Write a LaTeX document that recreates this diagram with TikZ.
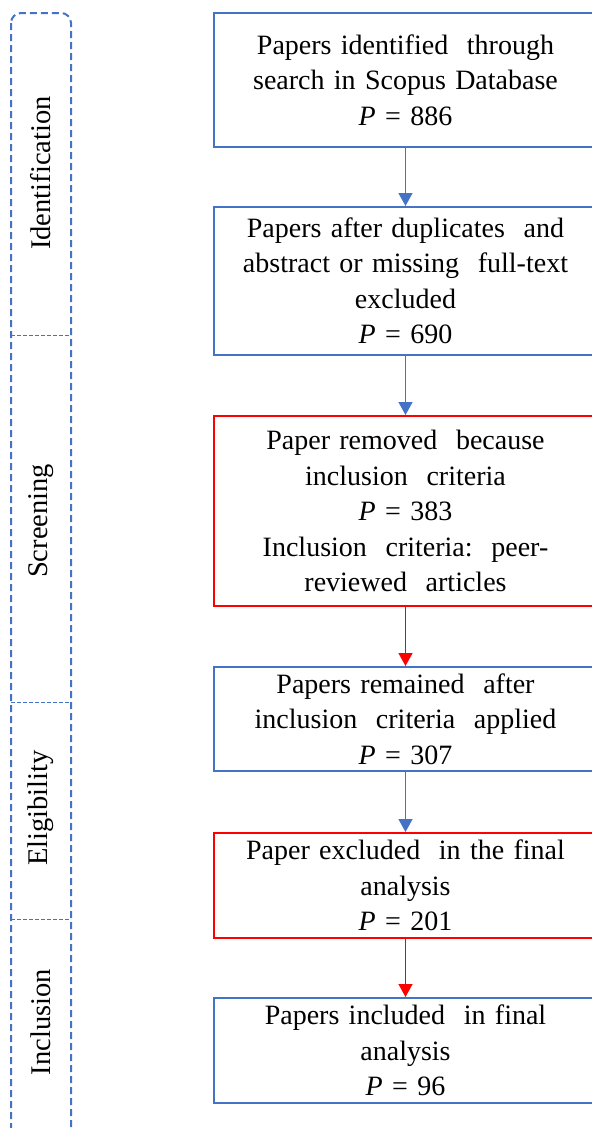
\documentclass[tikz,border=0pt]{standalone}
\usepackage{fontspec}
\setmainfont{Liberation Serif}
\usetikzlibrary{arrows.meta}
\definecolor{cblue}{HTML}{4472C4}
\definecolor{cred}{HTML}{FF0000}
\tikzset{
  box/.style={draw=cblue, line width=2pt, minimum width=383pt, inner sep=0pt,
    text width=378pt, align=center, font=\fontsize{28pt}{35.5pt}\selectfont},
  redbox/.style={box, draw=cred},
  conn/.style={draw=cblue, line width=1.3pt, -{Triangle[length=13pt,width=14pt]}},
  redconn/.style={conn, draw=cred, fill=cred},
  phase/.style={rotate=90, font=\fontsize{28.5pt}{32pt}\selectfont, inner sep=0pt},
  bar/.style={draw=cblue, line width=2pt, dash pattern=on 7pt off 4pt, rounded corners=10pt},
  divider/.style={draw=cblue, line width=1pt, dash pattern=on 4pt off 2pt}
}
\newcommand{\pv}[1]{\textit{P} = #1}
\begin{document}
\begin{tikzpicture}[x=1pt, y=-1pt]
\useasboundingbox (0,0) rectangle (592,1128);
\clip (0,0) rectangle (592,1128);
% phase bar
\draw[bar] (11,13) rectangle (71,1138);
\coordinate (d1a) at (11,335); \coordinate (d1b) at (71,335);
\coordinate (d2a) at (11,702); \coordinate (d2b) at (71,702);
\coordinate (d3a) at (11,919); \coordinate (d3b) at (71,919);
\draw[divider] (d1a) -- (d1b);
\draw[divider] (d2a) -- (d2b);
\draw[divider] (d3a) -- (d3b);
\node[phase] (p1) at (41,173) {Identification};
\node[phase] (p2) at (41,521) {Screening};
\node[phase] (p3) at (41,808) {Eligibility};
\node[phase] (p4) at (41,1022) {Inclusion};
% boxes
\node[box, minimum height=134pt] (b1) at (405.5,80) {Papers identified\ \ through\\search in Scopus Database\\\pv{886}};
\node[box, minimum height=148pt] (b2) at (405.5,281) {Papers after duplicates\ \ and\\abstract or missing\ \ full-text\\excluded\\\pv{690}};
\node[redbox, minimum height=190pt] (b3) at (405.5,511) {Paper removed\ \ because\\inclusion\ \ criteria\\\pv{383}\\Inclusion\ \ criteria:\ \ peer-\\reviewed\ \ articles};
\node[box, minimum height=104pt] (b4) at (405.5,719) {Papers remained\ \ after\\inclusion\ \ criteria\ \ applied\\\pv{307}};
\node[redbox, minimum height=105pt] (b5) at (405.5,885.5) {Paper excluded\ \ in the final\\analysis\\\pv{201}};
\node[box, minimum height=105pt] (b6) at (405.5,1050.5) {Papers included\ \ in final\\analysis\\\pv{96}};
% connectors
\draw[conn, fill=cblue] (b1) -- (b2);
\draw[conn, fill=cblue] (b2) -- (b3);
\draw[redconn] (b3) -- (b4);
\draw[conn, fill=cblue] (b4) -- (b5);
\draw[redconn] (b5) -- (b6);
\end{tikzpicture}
\end{document}
